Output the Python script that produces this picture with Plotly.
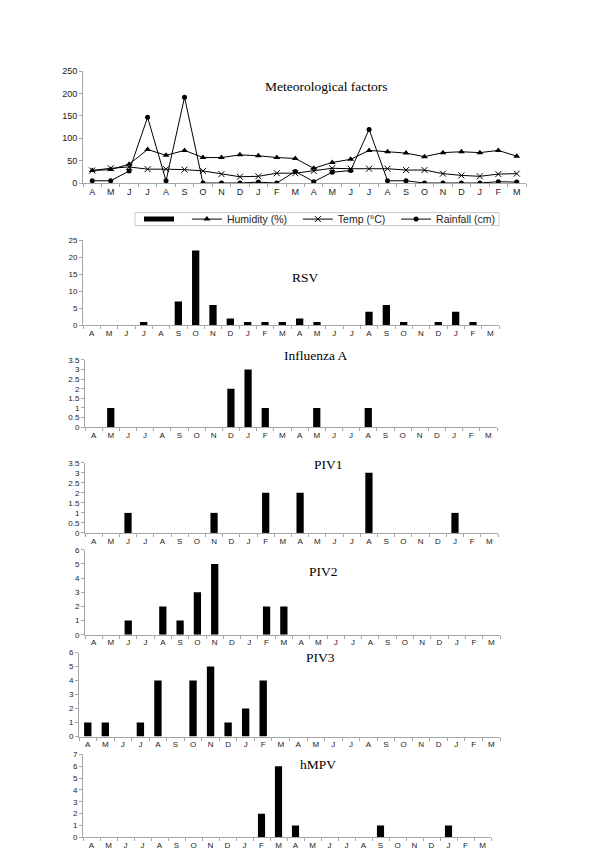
import plotly.graph_objects as go

# ---------------- data ----------------
periods = ["Y1-Apr", "Y1-May", "Y1-Jun", "Y1-Jul", "Y1-Aug", "Y1-Sep", "Y1-Oct", "Y1-Nov",
           "Y1-Dec", "Y2-Jan", "Y2-Feb", "Y2-Mar", "Y2-Apr", "Y2-May", "Y2-Jun", "Y2-Jul",
           "Y2-Aug", "Y2-Sep", "Y2-Oct", "Y2-Nov", "Y2-Dec", "Y3-Jan", "Y3-Feb", "Y3-Mar"]
month_labels = ["A", "M", "J", "J", "A", "S", "O", "N", "D", "J", "F", "M",
                "A", "M", "J", "J", "A", "S", "O", "N", "D", "J", "F", "M"]

humidity = [28, 30, 42, 75, 62, 73, 57, 57, 63, 61, 57, 55,
            33, 46, 53, 73, 70, 67, 59, 68, 70, 68, 73, 60]
temp = [28, 33, 36, 31, 31, 30, 27, 20, 14, 15, 22, 22,
        27, 33, 32, 32, 32, 29, 29, 21, 17, 15, 20, 21]
rainfall = [5, 5, 27, 147, 5, 192, 0, 0, 0, 2, 0, 26,
            3, 24, 28, 120, 5, 5, 0, 0, 0, 0, 3, 2]

rsv = [0, 0, 0, 1, 0, 7, 22, 6, 2, 1, 1, 1, 2, 1, 0, 0, 4, 6, 1, 0, 1, 4, 1, 0]
influenza_a = [0, 1, 0, 0, 0, 0, 0, 0, 2, 3, 1, 0, 0, 1, 0, 0, 1, 0, 0, 0, 0, 0, 0, 0]
piv1 = [0, 0, 1, 0, 0, 0, 0, 1, 0, 0, 2, 0, 2, 0, 0, 0, 3, 0, 0, 0, 0, 1, 0, 0]
piv2 = [0, 0, 1, 0, 2, 1, 3, 5, 0, 0, 2, 2, 0, 0, 0, 0, 0, 0, 0, 0, 0, 0, 0, 0]
piv3 = [1, 1, 0, 1, 4, 0, 4, 5, 1, 2, 4, 0, 0, 0, 0, 0, 0, 0, 0, 0, 0, 0, 0, 0]
hmpv = [0, 0, 0, 0, 0, 0, 0, 0, 0, 0, 2, 6, 1, 0, 0, 0, 0, 1, 0, 0, 0, 1, 0, 0]

met_title = "Meteorological factors"
series_names = ["Humidity (%)", "Temp (°C)", "Rainfall (cm)"]

panel_names = ["RSV", "Influenza A", "PIV1", "PIV2", "PIV3", "hMPV"]
panel_values = [rsv, influenza_a, piv1, piv2, piv3, hmpv]
panel_ymax = [25, 3.5, 3.5, 6, 6, 7]
panel_dtick = [5, 0.5, 0.5, 1, 1, 1]

# ---------------- layout helpers ----------------
W, H = 600, 867


def dx(l, r):
    return [l / W, r / W]


def dy(top, bottom):
    return [1 - bottom / H, 1 - top / H]


# pixel boxes: (left, right, top, bottom)
met_box = (75, 518, 59, 172)
panel_boxes = [
    (75, 491, 230, 316),
    (77, 489, 351, 419),
    (77, 490, 455, 526),
    (77, 492, 543, 629),
    (71, 492, 647, 732),
    (75, 483, 750, 834),
]
legend_box = (127, 491, 202, 215)
met_title_pos = (318, 65)
panel_title_pos = [(297, 258), (308, 347), (320, 457), (315, 565), (312, 662), (310, 770)]

AXIS_COLOR = "#a6a6a6"
TICK_FONT_COLOR = "#222222"
SERIF = "Liberation Serif, Times New Roman, serif"
SANS = "Liberation Sans, Arial, sans-serif"
NB = "\u00a0"

fig = go.Figure()

# legend-only bar swatch
fig.add_trace(go.Scatter(x=[None], y=[None], mode="lines",
                         line=dict(color="black", width=5), name=NB,
                         showlegend=True, xaxis="x", yaxis="y"))

line_style = dict(color="black", width=1)
fig.add_trace(go.Scatter(x=periods, y=humidity, mode="lines+markers",
                         name=series_names[0] + NB * 2,
                         line=line_style,
                         marker=dict(symbol="triangle-up", size=6, color="black"),
                         xaxis="x", yaxis="y"))
fig.add_trace(go.Scatter(x=periods, y=temp, mode="lines+markers",
                         name=series_names[1] + NB * 2,
                         line=line_style,
                         marker=dict(symbol="x-thin", size=6,
                                     line=dict(color="black", width=1)),
                         xaxis="x", yaxis="y"))
fig.add_trace(go.Scatter(x=periods, y=rainfall, mode="lines+markers",
                         name=series_names[2],
                         line=line_style,
                         marker=dict(symbol="circle", size=5, color="black"),
                         xaxis="x", yaxis="y"))

for i, vals in enumerate(panel_values):
    n = i + 2
    fig.add_trace(go.Bar(x=periods, y=vals, marker=dict(color="black", line_width=0),
                         width=0.42, showlegend=False,
                         xaxis=f"x{n}", yaxis=f"y{n}"))

layout = dict(
    width=W, height=H,
    margin=dict(l=0, r=0, t=0, b=0),
    paper_bgcolor="white", plot_bgcolor="white",
    showlegend=True,
    legend=dict(orientation="h", x=131 / W,
                y=1 - (legend_box[2] + legend_box[3]) / 2 / H,
                xanchor="left", yanchor="middle",
                borderwidth=0, bgcolor="rgba(0,0,0,0)",
                font=dict(family=SANS, size=10.5, color="#222"),
                itemwidth=30, tracegroupgap=0),
    shapes=[dict(type="rect", xref="paper", yref="paper",
                 x0=legend_box[0] / W, x1=legend_box[1] / W,
                 y0=1 - legend_box[3] / H, y1=1 - legend_box[2] / H,
                 line=dict(color="#c8c8c8", width=1), fillcolor="white", layer="below")],
)


def xaxis_cfg(box, anchor, fsize):
    return dict(domain=dx(box[0], box[1]), anchor=anchor, type="category",
                categoryorder="array", categoryarray=periods,
                tickmode="array", tickvals=periods, ticktext=month_labels,
                tickson="boundaries", ticks="outside", ticklen=3, tickcolor=AXIS_COLOR,
                showline=True, linecolor=AXIS_COLOR, linewidth=1,
                showgrid=False, zeroline=False,
                tickfont=dict(family=SANS, size=fsize, color=TICK_FONT_COLOR),
                range=[-0.5, 23.5])


def yaxis_cfg(box, anchor, ymax, dtick, fsize):
    return dict(domain=dy(box[2], box[3]), anchor=anchor, range=[0, ymax],
                tickmode="linear", tick0=0, dtick=dtick,
                ticks="outside", ticklen=3, tickcolor=AXIS_COLOR,
                showline=True, linecolor=AXIS_COLOR, linewidth=1,
                showgrid=False, zeroline=False,
                tickfont=dict(family=SANS, size=fsize, color=TICK_FONT_COLOR))


layout["xaxis"] = xaxis_cfg(met_box, "y", 9)
layout["yaxis"] = yaxis_cfg(met_box, "x", 250, 50, 9)
for i in range(len(panel_names)):
    n = i + 2
    layout[f"xaxis{n}"] = xaxis_cfg(panel_boxes[i], f"y{n}", 8)
    layout[f"yaxis{n}"] = yaxis_cfg(panel_boxes[i], f"x{n}", panel_ymax[i], panel_dtick[i], 8)

annotations = [dict(text=met_title, x=met_title_pos[0] / W, y=1 - met_title_pos[1] / H,
                    xref="paper", yref="paper", showarrow=False,
                    font=dict(family=SERIF, size=13.5, color="black"))]
for name, pos in zip(panel_names, panel_title_pos):
    annotations.append(dict(text=name, x=pos[0] / W, y=1 - pos[1] / H,
                            xref="paper", yref="paper", showarrow=False,
                            font=dict(family=SERIF, size=13.5, color="black")))
layout["annotations"] = annotations

fig.update_layout(**layout)
fig.write_html("out.html")
